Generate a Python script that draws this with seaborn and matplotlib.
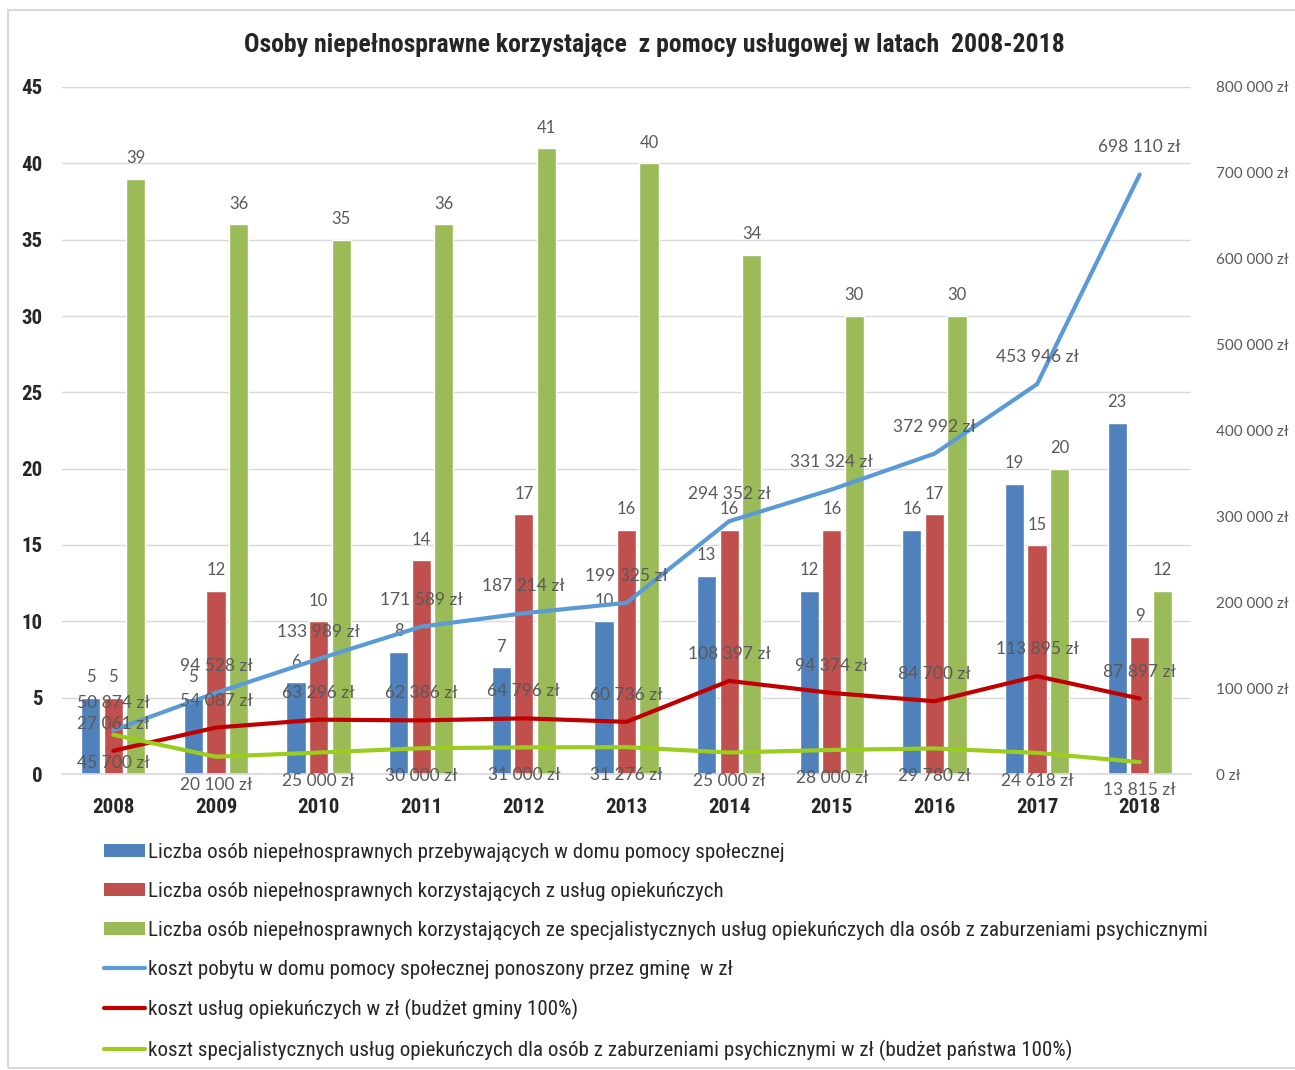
import matplotlib
matplotlib.use("Agg")
import matplotlib.pyplot as plt
import seaborn as sns
import pandas as pd
import numpy as np
from matplotlib.patches import Patch, Rectangle
from matplotlib.lines import Line2D
from matplotlib import font_manager as fm

years = ["2008", "2009", "2010", "2011", "2012", "2013", "2014", "2015", "2016", "2017", "2018"]
dps_count = [5, 5, 6, 8, 7, 10, 13, 12, 16, 19, 23]
care_count = [5, 12, 10, 14, 17, 16, 16, 16, 17, 15, 9]
spec_count = [39, 36, 35, 36, 41, 40, 34, 30, 30, 20, 12]
dps_cost = [50874, 94528, 133989, 171589, 187214, 199325, 294352, 331324, 372992, 453946, 698110]
care_cost = [27061, 54087, 63296, 62386, 64796, 60736, 108397, 94374, 84700, 113895, 87897]
spec_cost = [45700, 20100, 25000, 30000, 31000, 31276, 25000, 28000, 29780, 24618, 13815]

bar_names = [
    "Liczba osób niepełnosprawnych przebywających w domu pomocy społecznej",
    "Liczba osób niepełnosprawnych korzystających z usług opiekuńczych",
    "Liczba osób niepełnosprawnych korzystających ze specjalistycznych usług opiekuńczych dla osób z zaburzeniami psychicznymi",
]
line_names = [
    "koszt pobytu w domu pomocy społecznej ponoszony przez gminę  w zł",
    "koszt usług opiekuńczych w zł (budżet gminy 100%)",
    "koszt specjalistycznych usług opiekuńczych dla osób z zaburzeniami psychicznymi w zł (budżet państwa 100%)",
]
title = "Osoby niepełnosprawne korzystające  z pomocy usługowej w latach  2008-2018"

bar_colors = ["#4F81BD", "#C0504D", "#9BBB59"]
line_colors = ["#5B9BD5", "#C00000", "#9ACD1E"]

sns.set_theme(style="white")
available = {f.name for f in fm.fontManager.ttflist}
narrow_name = "Liberation Sans"
for cand in ["Liberation Sans Narrow", "Arial Narrow", "DejaVu Sans Condensed", "Roboto Condensed",
             "Open Sans Condensed", "Liberation Sans"]:
    if cand in available:
        narrow_name = cand
        break
NARROW = [narrow_name, "DejaVu Sans"]
LABF = ["Lato", "DejaVu Sans"]
plt.rcParams["font.family"] = NARROW

df = pd.DataFrame({
    "year": years * 3,
    "series": sum([[n] * len(years) for n in bar_names], []),
    "value": dps_count + care_count + spec_count,
})

fig = plt.figure(figsize=(12.95, 10.70), dpi=100)
renderer = fig.canvas.get_renderer()


def fit_size(text, width_px, weight="normal", base=14):
    t = fig.text(0, 0, text, fontsize=base, fontweight=weight, family=NARROW)
    w = t.get_window_extent(renderer).width
    t.remove()
    return base * width_px / w


ax = fig.add_axes([62 / 1295, 1 - 774 / 1070, (1191 - 62) / 1295, (774 - 87) / 1070])
sns.barplot(data=df, x="year", y="value", hue="series", palette=bar_colors,
            width=0.66, gap=0.15, ax=ax, legend=False, saturation=1)
ax.set_ylim(0, 45)
ax.set_yticks(np.arange(0, 46, 5))
ax.set_xlim(-0.5, 10.5)
ax.set_xlabel("")
ax.set_ylabel("")
ax.grid(axis="y", color="#D9D9D9", linewidth=1)
ax.set_axisbelow(True)
for s in ["top", "right", "left"]:
    ax.spines[s].set_visible(False)
ax.spines["bottom"].set_color("#D9D9D9")
ax.tick_params(axis="both", length=0)
tick_size = min(16, fit_size("2008", 42, "bold"))
for lab in ax.get_yticklabels():
    lab.set_fontweight("bold"); lab.set_fontsize(tick_size); lab.set_family(NARROW)
ax.tick_params(axis="y", pad=14)
for lab in ax.get_xticklabels():
    lab.set_fontweight("bold"); lab.set_fontsize(tick_size); lab.set_family(NARROW)
ax.tick_params(axis="x", pad=17)

for cont in ax.containers:
    ax.bar_label(cont, padding=9, fontsize=12, color="#595959", family=LABF)

ax2 = ax.twinx()
x = np.arange(len(years))
for vals, col, pos in zip([dps_cost, care_cost, spec_cost], line_colors, ["above", "above", "below"]):
    sns.lineplot(x=x, y=vals, ax=ax2, color=col, linewidth=3)
    for xi, v in zip(x, vals):
        off = 27 if pos == "above" else -28
        ax2.annotate(f"{v:,}".replace(",", " ") + " zł", (xi, v), xytext=(0, off),
                     textcoords="offset pixels",
                     ha="center", va="center", fontsize=12.5, color="#595959", family=LABF)
ax2.set_ylim(0, 800000)
ax2.set_yticks(np.arange(0, 800001, 100000))
ax2.set_yticklabels([(f"{v:,}".replace(",", " ") + " zł") for v in range(0, 800001, 100000)],
                    fontsize=11, color="#595959", family=LABF)
ax2.tick_params(axis="y", length=0, pad=18)
ax2.set_ylabel("")
for s in ["top", "right", "left", "bottom"]:
    ax2.spines[s].set_visible(False)
ax2.grid(False)

title_size = min(20, fit_size(title, 822, "bold"))
fig.text(654 / 1295, 1 - 45 / 1070, title, ha="center", va="center",
         fontsize=title_size, fontweight="bold", family=NARROW)

leg_size = min(18, fit_size(bar_names[2], 1062))
fs_px = leg_size * 100 / 72
handles = [Patch(facecolor=c, edgecolor="none") for c in bar_colors] + \
          [Line2D([0], [0], color=c, linewidth=3) for c in line_colors]
leg = fig.legend(handles, bar_names + line_names, loc="upper left",
                 bbox_to_anchor=(104 / 1295, 1 - 843 / 1070), frameon=False,
                 prop={"family": NARROW, "size": leg_size}, handlelength=41 / fs_px,
                 handleheight=0.6, handletextpad=3 / fs_px,
                 labelspacing=max(0.1, (39.0 - 0.91 * fs_px) / fs_px),
                 borderpad=0, borderaxespad=0)

fig.patches.append(Rectangle((8 / 1295, 2 / 1070), 1.0, 1 - 12 / 1070,
                             transform=fig.transFigure, fill=False,
                             edgecolor="#D9D9D9", linewidth=1.5))

fig.savefig("out.png", dpi=100, facecolor="white")
